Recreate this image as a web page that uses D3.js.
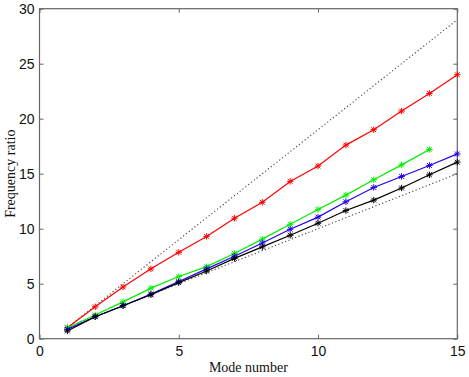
<!DOCTYPE html>
<html>
<head>
<meta charset="utf-8">
<script src="https://cdn.jsdelivr.net/npm/d3@7/dist/d3.min.js"></script>
<style>
  body { margin: 0; background: #fff; }
  svg { font-family: "Liberation Serif", "Times New Roman", serif; }
</style>
</head>
<body>
<svg id="chart" width="469" height="377"></svg>
<script>
// data
var modes = [1, 2, 3, 4, 5, 6, 7, 8, 9, 10, 11, 12, 13, 14, 15];
var red   = [1.0, 2.9, 4.7, 6.35, 7.85, 9.3, 10.95, 12.4, 14.3, 15.7, 17.6, 19.0, 20.7, 22.3, 24.0];
var green = [1.0, 2.15, 3.35, 4.6, 5.65, 6.55, 7.75, 9.05, 10.4, 11.75, 13.05, 14.45, 15.8, 17.2];
var blue  = [0.85, 2.0, 3.0, 4.05, 5.2, 6.35, 7.5, 8.7, 9.95, 11.05, 12.45, 13.75, 14.75, 15.75, 16.8];
var black = [0.7, 2.0, 3.0, 4.0, 5.1, 6.15, 7.3, 8.35, 9.4, 10.5, 11.65, 12.6, 13.7, 14.9, 16.05];
var upperBound = [[1, 1], [15, 29]];   // dotted, y = 2x - 1
var lowerBound = [[1, 1], [15, 15]];   // dotted, y = x
var xTicks = [0, 5, 10, 15];
var yTicks = [0, 5, 10, 15, 20, 25, 30];

var series = [
  {vals: red, color: "#ff0000"},
  {vals: green, color: "#00ee00"},
  {vals: blue, color: "#2200ee"},
  {vals: black, color: "#000000"}
];

var svg = d3.select("#chart"),
  margin = {top: 8.7, right: 11.7, bottom: 38.3, left: 39.5},
  width = +svg.attr("width") - margin.left - margin.right,
  height = +svg.attr("height") - margin.top - margin.bottom,
  g = svg.append("g").attr("transform", "translate(" + margin.left + "," + margin.top + ")");

var x = d3.scaleLinear().domain([0, 15]).range([0, width]);
var y = d3.scaleLinear().domain([0, 30]).range([height, 0]);

var axisColor = "#666";

function styleAxis(sel, noText) {
  sel.select(".domain").remove();
  sel.selectAll(".tick line").attr("stroke", axisColor);
  sel.selectAll(".tick text").attr("fill", "#111").attr("font-size", 14);
  if (noText) sel.selectAll(".tick text").remove();
}

// ticks point inward
g.append("g")
  .attr("transform", "translate(0," + height + ")")
  .call(d3.axisBottom(x).tickValues(xTicks).tickSizeInner(-4).tickPadding(7))
  .call(styleAxis);
g.append("g")
  .call(d3.axisTop(x).tickValues(xTicks).tickSizeInner(-4))
  .call(styleAxis, true);
g.append("g")
  .call(d3.axisLeft(y).tickValues(yTicks).tickSizeInner(-4).tickPadding(5))
  .call(styleAxis);
g.append("g")
  .attr("transform", "translate(" + width + ",0)")
  .call(d3.axisRight(y).tickValues(yTicks).tickSizeInner(-4))
  .call(styleAxis, true);

g.append("rect")
  .attr("width", width).attr("height", height)
  .attr("fill", "none").attr("stroke", axisColor).attr("stroke-width", 1.2);

var line = d3.line().x(function(d) { return x(d[0]); }).y(function(d) { return y(d[1]); });

[upperBound, lowerBound].forEach(function(b) {
  g.append("path")
    .attr("d", line(b))
    .attr("fill", "none")
    .attr("stroke", "#444")
    .attr("stroke-width", 1.1)
    .attr("stroke-dasharray", "1.2,2.4");
});

series.forEach(function(s) {
  var pts = s.vals.map(function(v, i) { return [modes[i], v]; });
  g.append("path")
    .attr("d", line(pts))
    .attr("fill", "none")
    .attr("stroke", s.color)
    .attr("stroke-width", 1.2);

  // asterisk markers
  var r = 3.2;
  var m = g.append("g").selectAll("g")
    .data(pts)
    .enter().append("g")
      .attr("transform", function(d) { return "translate(" + x(d[0]) + "," + y(d[1]) + ")"; })
      .attr("stroke", s.color)
      .attr("stroke-width", 1);
  m.append("line").attr("x1", -r).attr("x2", r);
  m.append("line").attr("y1", -r).attr("y2", r);
  m.append("line").attr("x1", -r * 0.75).attr("y1", -r * 0.75).attr("x2", r * 0.75).attr("y2", r * 0.75);
  m.append("line").attr("x1", -r * 0.75).attr("y1", r * 0.75).attr("x2", r * 0.75).attr("y2", -r * 0.75);
});

svg.append("text")
  .attr("x", margin.left + width / 2)
  .attr("y", 372)
  .attr("text-anchor", "middle")
  .attr("font-size", 14)
  .attr("fill", "#111")
  .text("Mode number");

svg.append("text")
  .attr("transform", "translate(15," + (margin.top + height / 2) + ") rotate(-90)")
  .attr("text-anchor", "middle")
  .attr("font-size", 14)
  .attr("fill", "#111")
  .text("Frequency ratio");
</script>
</body>
</html>
